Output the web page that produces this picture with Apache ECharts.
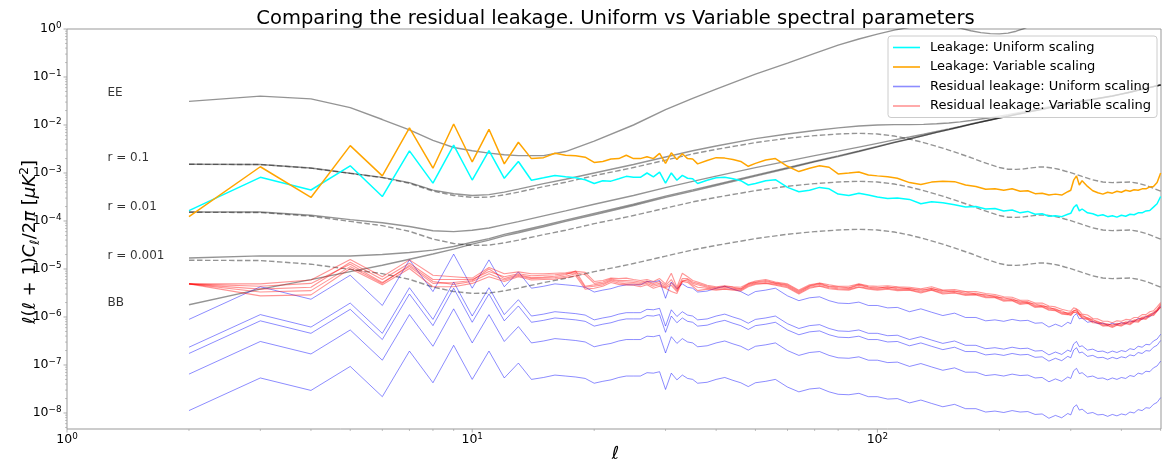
<!DOCTYPE html>
<html>
<head>
<meta charset="utf-8">
<title>Residual leakage</title>
<script src="https://cdn.jsdelivr.net/npm/echarts@6/dist/echarts.min.js"></script>
<style>
  html, body { margin: 0; padding: 0; background: #fff; }
  #chart { width: 1164px; height: 462px; }
</style>
</head>
<body>
<div id="chart"></div>
<script>
var FONT = 'DejaVu Sans';
var X_MIN = 1, X_MAX = 501;
var Y_MIN = 4.64e-9, Y_MAX = 1;

// ---- theory spectra (values in muK^2) ----
var theoryEll = [2,3,4,5,6,7,8,9,10,11,12,13,15,17,20,25,30,35,40,50,60,70,80,90,100,110,120,130,140,150,160,170,180,190,200,210,220,230,240,250,260,270,280,290,300,320,340,360,380,400,420,440,460,480,500];
var tensorR01 = [1.52e-3,1.50e-3,1.26e-3,9.8e-4,8.0e-4,6.1e-4,4.2e-4,3.4e-4,3.1e-4,3.15e-4,3.5e-4,4.0e-4,5.2e-4,6.4e-4,8.8e-4,1.3e-3,1.85e-3,2.5e-3,3.1e-3,4.3e-3,5.3e-3,6.0e-3,6.5e-3,6.7e-3,6.5e-3,5.9e-3,5.1e-3,4.3e-3,3.6e-3,3.0e-3,2.5e-3,2.1e-3,1.75e-3,1.5e-3,1.3e-3,1.2e-3,1.19e-3,1.22e-3,1.28e-3,1.33e-3,1.33e-3,1.27e-3,1.2e-3,1.1e-3,1.02e-3,8.5e-4,7.2e-4,6.5e-4,6.3e-4,6.4e-4,6.5e-4,6.1e-4,5.5e-4,4.8e-4,4.2e-4];
var tensorR001 = [1.52e-4,1.50e-4,1.26e-4,9.8e-5,8.0e-5,6.1e-5,4.2e-5,3.4e-5,3.1e-5,3.15e-5,3.5e-5,4.0e-5,5.2e-5,6.4e-5,8.8e-5,1.3e-4,1.85e-4,2.5e-4,3.1e-4,4.3e-4,5.3e-4,6.0e-4,6.5e-4,6.7e-4,6.5e-4,5.9e-4,5.1e-4,4.3e-4,3.6e-4,3.0e-4,2.5e-4,2.1e-4,1.75e-4,1.5e-4,1.3e-4,1.2e-4,1.19e-4,1.22e-4,1.28e-4,1.33e-4,1.33e-4,1.27e-4,1.2e-4,1.1e-4,1.02e-4,8.5e-5,7.2e-5,6.5e-5,6.3e-5,6.4e-5,6.5e-5,6.1e-5,5.5e-5,4.8e-5,4.2e-5];
var tensorR0001 = [1.52e-5,1.50e-5,1.26e-5,9.8e-6,8.0e-6,6.1e-6,4.2e-6,3.4e-6,3.1e-6,3.15e-6,3.5e-6,4.0e-6,5.2e-6,6.4e-6,8.8e-6,1.3e-5,1.85e-5,2.5e-5,3.1e-5,4.3e-5,5.3e-5,6.0e-5,6.5e-5,6.7e-5,6.5e-5,5.9e-5,5.1e-5,4.3e-5,3.6e-5,3.0e-5,2.5e-5,2.1e-5,1.75e-5,1.5e-5,1.3e-5,1.2e-5,1.19e-5,1.22e-5,1.28e-5,1.33e-5,1.33e-5,1.27e-5,1.2e-5,1.1e-5,1.02e-5,8.5e-6,7.2e-6,6.5e-6,6.3e-6,6.4e-6,6.5e-6,6.1e-6,5.5e-6,4.8e-6,4.2e-6];
var lensingBB = [1.8e-6,3.8e-6,6.0e-6,8.8e-6,1.2e-5,1.6e-5,2.05e-5,2.6e-5,3.3e-5,4.0e-5,4.9e-5,5.7e-5,7.6e-5,9.8e-5,1.35e-4,2.1e-4,3.1e-4,4.2e-4,5.5e-4,8.6e-4,1.24e-3,1.7e-3,2.2e-3,2.8e-3,3.5e-3,4.3e-3,5.1e-3,6.0e-3,7.0e-3,8.0e-3,9.1e-3,1.03e-2,1.15e-2,1.27e-2,1.4e-2,1.52e-2,1.65e-2,1.78e-2,1.92e-2,2.05e-2,2.2e-2,2.35e-2,2.5e-2,2.65e-2,2.8e-2,3.1e-2,3.4e-2,3.7e-2,4.0e-2,4.4e-2,4.8e-2,5.3e-2,5.8e-2,6.3e-2,6.8e-2];
var totalR01 = [1.52e-3,1.50e-3,1.27e-3,9.9e-4,8.1e-4,6.3e-4,4.4e-4,3.7e-4,3.4e-4,3.55e-4,4.0e-4,4.6e-4,6.0e-4,7.4e-4,1.0e-3,1.5e-3,2.15e-3,2.9e-3,3.65e-3,5.2e-3,6.5e-3,7.7e-3,8.7e-3,9.5e-3,1.0e-2,1.02e-2,1.02e-2,1.03e-2,1.06e-2,1.1e-2,1.16e-2,1.24e-2,1.33e-2,1.42e-2,1.53e-2,1.64e-2,1.77e-2,1.9e-2,2.05e-2,2.18e-2,2.33e-2,2.48e-2,2.62e-2,2.76e-2,2.9e-2,3.19e-2,3.47e-2,3.77e-2,4.06e-2,4.46e-2,4.87e-2,5.36e-2,5.86e-2,6.35e-2,6.84e-2];
var totalR001 = [1.54e-4,1.54e-4,1.32e-4,1.07e-4,9.2e-5,7.7e-5,6.25e-5,6.0e-5,6.4e-5,7.15e-5,8.4e-5,9.7e-5,1.28e-4,1.62e-4,2.23e-4,3.4e-4,4.95e-4,6.7e-4,8.6e-4,1.29e-3,1.77e-3,2.3e-3,2.85e-3,3.47e-3,4.15e-3,4.89e-3,5.61e-3,6.43e-3,7.36e-3,8.3e-3,9.35e-3,1.05e-2,1.17e-2,1.285e-2,1.41e-2,1.53e-2,1.66e-2,1.79e-2,1.93e-2,2.06e-2,2.21e-2,2.36e-2,2.51e-2,2.66e-2,2.81e-2,3.11e-2,3.41e-2,3.71e-2,4.01e-2,4.41e-2,4.81e-2,5.31e-2,5.81e-2,6.3e-2,6.8e-2];
var totalR0001 = [1.7e-5,1.88e-5,1.86e-5,1.86e-5,2.0e-5,2.21e-5,2.47e-5,2.94e-5,3.61e-5,4.3e-5,5.25e-5,6.1e-5,8.1e-5,1.04e-4,1.44e-4,2.23e-4,3.29e-4,4.45e-4,5.81e-4,9.03e-4,1.29e-3,1.76e-3,2.27e-3,2.87e-3,3.57e-3,4.36e-3,5.15e-3,6.04e-3,7.04e-3,8.03e-3,9.13e-3,1.03e-2,1.15e-2,1.27e-2,1.4e-2,1.52e-2,1.65e-2,1.78e-2,1.92e-2,2.05e-2,2.2e-2,2.35e-2,2.5e-2,2.65e-2,2.8e-2,3.1e-2,3.4e-2,3.7e-2,4.0e-2,4.4e-2,4.8e-2,5.3e-2,5.8e-2,6.3e-2,6.8e-2];
var eeEll = [2,3,4,5,6,7,8,9,10,11,12,13,15,17,20,25,30,35,40,50,60,70,80,90,100,110,120,130,140,150,160,170,180,190,200,210,220,230,240,260,300,350,400,450,500];
var eeSpectrum = [3.1e-2,4.0e-2,3.5e-2,2.3e-2,1.3e-2,7.9e-3,4.8e-3,3.4e-3,2.9e-3,2.6e-3,2.4e-3,2.3e-3,2.3e-3,2.8e-3,4.6e-3,1.0e-2,2.1e-2,3.6e-2,5.6e-2,1.15e-1,1.95e-1,3.1e-1,4.6e-1,6.2e-1,7.8e-1,9.5e-1,1.08,1.2,1.26,1.2,1.04,0.92,0.84,0.8,0.79,0.82,0.9,1.02,1.2,1.6,2.5,3.5,4.5,5,5.5];

// ---- measured spectra: multipoles and log10 of the values ----
var ell = [2,3,4,5,6,7,8,9,10,11,
  12,13,14,15,16,17,18,19,20,21,
  22,23,24,25,26,27,28,29,30,31,
  32,33,34,35,36,38,40,42,44,46,
  48,50,53,56,60,64,68,72,76,80,
  85,90,95,100,106,112,120,128,136,145,
  155,165,175,185,195,205,215,225,235,245,
  255,265,275,285,295,300,305,310,315,320,
  330,340,350,360,370,380,390,400,410,420,
  430,440,450,460,470,480,490,500];

var leakUniformLog = [-3.785,-3.09,-3.354,-2.85,-3.49,-2.54,-3.21,-2.42,-3.146,-2.535,
  -3.11,-2.76,-3.15,-3.10,-3.05,-3.08,-3.10,-3.14,-3.22,-3.16,
  -3.17,-3.12,-3.07,-3.09,-3.09,-3.00,-3.08,-2.98,-3.21,-3.00,
  -3.15,-3.05,-3.11,-3.12,-3.22,-3.15,-3.10,-3.09,-3.12,-3.16,
  -3.25,-3.22,-3.16,-3.14,-3.30,-3.39,-3.36,-3.30,-3.33,-3.44,
  -3.47,-3.42,-3.46,-3.50,-3.53,-3.52,-3.55,-3.64,-3.60,-3.62,
  -3.66,-3.71,-3.70,-3.75,-3.74,-3.79,-3.77,-3.83,-3.80,-3.86,
  -3.85,-3.90,-3.89,-3.91,-3.86,-3.84,-3.72,-3.66,-3.79,-3.75,
  -3.83,-3.85,-3.89,-3.87,-3.91,-3.89,-3.92,-3.88,-3.90,-3.86,
  -3.87,-3.83,-3.83,-3.79,-3.78,-3.71,-3.64,-3.49];

var leakVariableLog = [-3.91,-2.87,-3.51,-2.43,-3.06,-2.06,-2.90,-1.98,-2.77,-2.09,
  -2.81,-2.36,-2.70,-2.68,-2.59,-2.63,-2.64,-2.67,-2.78,-2.76,
  -2.71,-2.70,-2.63,-2.70,-2.70,-2.66,-2.70,-2.59,-2.80,-2.58,
  -2.72,-2.60,-2.70,-2.71,-2.81,-2.74,-2.68,-2.69,-2.72,-2.76,
  -2.86,-2.80,-2.73,-2.70,-2.86,-2.97,-2.90,-2.85,-2.88,-3.02,
  -3.00,-2.98,-3.04,-3.06,-3.08,-3.11,-3.20,-3.24,-3.19,-3.17,
  -3.18,-3.25,-3.28,-3.34,-3.33,-3.36,-3.33,-3.38,-3.37,-3.43,
  -3.42,-3.46,-3.44,-3.46,-3.39,-3.36,-3.15,-3.06,-3.25,-3.16,
  -3.28,-3.37,-3.41,-3.44,-3.40,-3.42,-3.38,-3.40,-3.36,-3.38,
  -3.35,-3.36,-3.33,-3.33,-3.29,-3.28,-3.20,-3.00];

var resUniform1Log = [-6.05,-5.37,-5.63,-5.13,-5.76,-4.81,-5.47,-4.69,-5.40,-4.81,
  -5.37,-5.06,-5.40,-5.36,-5.31,-5.33,-5.35,-5.38,-5.48,-5.44,
  -5.41,-5.36,-5.33,-5.33,-5.33,-5.26,-5.27,-5.24,-5.61,-5.27,
  -5.41,-5.31,-5.38,-5.40,-5.48,-5.46,-5.40,-5.36,-5.42,-5.47,
  -5.55,-5.47,-5.44,-5.40,-5.56,-5.66,-5.60,-5.58,-5.66,-5.71,
  -5.72,-5.69,-5.76,-5.76,-5.81,-5.80,-5.89,-5.83,-5.90,-5.97,
  -5.92,-6.01,-6.01,-6.08,-6.06,-6.09,-6.05,-6.08,-6.07,-6.13,
  -6.12,-6.21,-6.15,-6.20,-6.11,-6.14,-5.98,-5.93,-6.04,-6.02,
  -6.11,-6.09,-6.14,-6.13,-6.17,-6.13,-6.16,-6.12,-6.14,-6.08,
  -6.10,-6.03,-6.05,-5.99,-6.00,-5.92,-5.88,-5.78];

var resUniform2Log = [-6.63,-5.95,-6.21,-5.71,-6.34,-5.39,-6.05,-5.27,-5.98,-5.39,
  -5.95,-5.64,-5.98,-5.94,-5.89,-5.91,-5.93,-5.96,-6.06,-6.02,
  -5.99,-5.94,-5.91,-5.91,-5.91,-5.84,-5.85,-5.82,-6.19,-5.85,
  -5.99,-5.89,-5.96,-5.98,-6.06,-6.04,-5.98,-5.94,-6.00,-6.05,
  -6.13,-6.05,-6.02,-5.98,-6.14,-6.24,-6.18,-6.16,-6.24,-6.29,
  -6.30,-6.27,-6.34,-6.34,-6.39,-6.38,-6.47,-6.41,-6.48,-6.55,
  -6.50,-6.59,-6.59,-6.66,-6.64,-6.67,-6.63,-6.66,-6.65,-6.71,
  -6.70,-6.79,-6.73,-6.78,-6.69,-6.72,-6.56,-6.51,-6.62,-6.60,
  -6.69,-6.67,-6.72,-6.71,-6.75,-6.71,-6.74,-6.70,-6.72,-6.66,
  -6.68,-6.61,-6.63,-6.57,-6.58,-6.50,-6.46,-6.36];

var resUniform3Log = [-6.76,-6.08,-6.34,-5.84,-6.47,-5.52,-6.18,-5.40,-6.11,-5.52,
  -6.08,-5.77,-6.11,-6.07,-6.02,-6.04,-6.06,-6.09,-6.19,-6.15,
  -6.12,-6.07,-6.04,-6.04,-6.04,-5.97,-5.98,-5.95,-6.32,-5.98,
  -6.12,-6.02,-6.09,-6.11,-6.19,-6.17,-6.11,-6.07,-6.13,-6.18,
  -6.26,-6.18,-6.15,-6.11,-6.27,-6.37,-6.31,-6.29,-6.37,-6.42,
  -6.43,-6.40,-6.47,-6.47,-6.52,-6.51,-6.60,-6.54,-6.61,-6.68,
  -6.63,-6.72,-6.72,-6.79,-6.77,-6.80,-6.76,-6.79,-6.78,-6.84,
  -6.83,-6.92,-6.86,-6.91,-6.82,-6.85,-6.69,-6.64,-6.75,-6.73,
  -6.82,-6.80,-6.85,-6.84,-6.88,-6.84,-6.87,-6.83,-6.85,-6.79,
  -6.81,-6.74,-6.76,-6.70,-6.71,-6.63,-6.59,-6.49];

var resUniform4Log = [-7.19,-6.51,-6.77,-6.27,-6.90,-5.95,-6.61,-5.83,-6.54,-5.95,
  -6.51,-6.20,-6.54,-6.50,-6.45,-6.47,-6.49,-6.52,-6.62,-6.58,
  -6.55,-6.50,-6.47,-6.47,-6.47,-6.40,-6.41,-6.38,-6.75,-6.41,
  -6.55,-6.45,-6.52,-6.54,-6.62,-6.60,-6.54,-6.50,-6.56,-6.61,
  -6.69,-6.61,-6.58,-6.54,-6.70,-6.80,-6.74,-6.72,-6.80,-6.85,
  -6.86,-6.83,-6.90,-6.90,-6.95,-6.94,-7.03,-6.97,-7.04,-7.11,
  -7.06,-7.15,-7.15,-7.22,-7.20,-7.23,-7.19,-7.22,-7.21,-7.27,
  -7.26,-7.35,-7.29,-7.34,-7.25,-7.28,-7.12,-7.07,-7.18,-7.16,
  -7.25,-7.23,-7.28,-7.27,-7.31,-7.27,-7.30,-7.26,-7.28,-7.22,
  -7.24,-7.17,-7.19,-7.13,-7.14,-7.06,-7.02,-6.92];

var resUniform5Log = [-7.95,-7.27,-7.53,-7.03,-7.66,-6.71,-7.37,-6.59,-7.30,-6.71,
  -7.27,-6.96,-7.30,-7.26,-7.21,-7.23,-7.25,-7.28,-7.38,-7.34,
  -7.31,-7.26,-7.23,-7.23,-7.23,-7.16,-7.17,-7.14,-7.51,-7.17,
  -7.31,-7.21,-7.28,-7.30,-7.38,-7.36,-7.30,-7.26,-7.32,-7.37,
  -7.45,-7.37,-7.34,-7.30,-7.46,-7.56,-7.50,-7.48,-7.56,-7.61,
  -7.62,-7.59,-7.66,-7.66,-7.71,-7.70,-7.79,-7.73,-7.80,-7.87,
  -7.82,-7.91,-7.91,-7.98,-7.96,-7.99,-7.95,-7.98,-7.97,-8.03,
  -8.02,-8.11,-8.05,-8.10,-8.01,-8.04,-7.88,-7.83,-7.94,-7.92,
  -8.01,-7.99,-8.04,-8.03,-8.07,-8.03,-8.06,-8.02,-8.04,-7.98,
  -8.00,-7.93,-7.95,-7.89,-7.90,-7.82,-7.78,-7.68];

var resVariable1Log = [-5.31,-5.36,-5.30,-4.90,-5.28,-4.95,-5.30,-5.28,-5.24,-5.00,
  -5.20,-5.12,-5.18,-5.17,-5.15,-5.12,-5.04,-5.36,-5.33,-5.30,
  -5.23,-5.26,-5.27,-5.28,-5.30,-5.27,-5.33,-5.30,-5.37,-5.29,
  -5.44,-5.26,-5.22,-5.30,-5.33,-5.38,-5.40,-5.38,-5.40,-5.42,
  -5.33,-5.28,-5.26,-5.30,-5.35,-5.48,-5.36,-5.32,-5.37,-5.39,
  -5.40,-5.34,-5.38,-5.40,-5.37,-5.41,-5.40,-5.46,-5.40,-5.48,
  -5.46,-5.51,-5.50,-5.56,-5.56,-5.63,-5.62,-5.70,-5.68,-5.76,
  -5.75,-5.82,-5.83,-5.90,-5.91,-5.93,-5.86,-5.87,-5.92,-5.99,
  -6.01,-6.08,-6.09,-6.15,-6.14,-6.18,-6.13,-6.15,-6.10,-6.12,
  -6.06,-6.07,-6.00,-6.01,-5.94,-5.93,-5.84,-5.76];

var resVariable2Log = [-5.31,-5.31,-5.23,-4.80,-5.16,-4.81,-5.13,-5.16,-5.19,-4.97,
  -5.10,-5.06,-5.10,-5.10,-5.09,-5.08,-5.05,-5.07,-5.26,-5.24,
  -5.19,-5.20,-5.19,-5.22,-5.24,-5.22,-5.26,-5.20,-5.31,-5.09,
  -5.38,-5.09,-5.16,-5.24,-5.27,-5.34,-5.37,-5.35,-5.37,-5.38,
  -5.30,-5.25,-5.22,-5.27,-5.31,-5.44,-5.33,-5.29,-5.33,-5.36,
  -5.36,-5.31,-5.35,-5.36,-5.35,-5.37,-5.38,-5.41,-5.37,-5.44,
  -5.43,-5.47,-5.47,-5.51,-5.53,-5.58,-5.59,-5.65,-5.65,-5.71,
  -5.71,-5.77,-5.79,-5.84,-5.87,-5.88,-5.81,-5.83,-5.87,-5.94,
  -5.96,-6.03,-6.04,-6.09,-6.09,-6.12,-6.08,-6.09,-6.05,-6.06,
  -6.01,-6.01,-5.95,-5.95,-5.89,-5.87,-5.79,-5.70];

var resVariable3Log = [-5.31,-5.42,-5.38,-4.86,-5.22,-4.88,-5.22,-5.22,-5.22,-5.05,
  -5.16,-5.10,-5.14,-5.13,-5.12,-5.10,-5.08,-5.12,-5.30,-5.27,
  -5.21,-5.24,-5.24,-5.25,-5.27,-5.25,-5.30,-5.26,-5.34,-5.22,
  -5.41,-5.20,-5.20,-5.27,-5.30,-5.36,-5.39,-5.36,-5.38,-5.41,
  -5.31,-5.27,-5.24,-5.29,-5.33,-5.46,-5.35,-5.30,-5.36,-5.37,
  -5.39,-5.32,-5.37,-5.38,-5.39,-5.38,-5.41,-5.43,-5.41,-5.45,
  -5.47,-5.48,-5.52,-5.53,-5.58,-5.60,-5.64,-5.67,-5.70,-5.73,
  -5.77,-5.79,-5.85,-5.87,-5.93,-5.90,-5.88,-5.84,-5.94,-5.96,
  -6.03,-6.05,-6.11,-6.12,-6.16,-6.15,-6.15,-6.12,-6.12,-6.09,
  -6.08,-6.04,-6.02,-5.98,-5.96,-5.90,-5.86,-5.73];

var resVariable4Log = [-5.31,-5.48,-5.45,-4.95,-5.30,-4.92,-5.26,-5.32,-5.26,-5.10,
  -5.23,-5.14,-5.20,-5.19,-5.18,-5.15,-5.10,-5.38,-5.36,-5.33,
  -5.25,-5.29,-5.31,-5.31,-5.33,-5.30,-5.36,-5.33,-5.39,-5.34,
  -5.47,-5.24,-5.25,-5.33,-5.38,-5.40,-5.42,-5.41,-5.42,-5.44,
  -5.35,-5.30,-5.29,-5.32,-5.37,-5.50,-5.38,-5.35,-5.39,-5.41,
  -5.42,-5.37,-5.40,-5.42,-5.40,-5.43,-5.43,-5.48,-5.43,-5.50,
  -5.49,-5.53,-5.53,-5.58,-5.59,-5.65,-5.65,-5.72,-5.71,-5.78,
  -5.78,-5.84,-5.86,-5.92,-5.94,-5.95,-5.90,-5.89,-5.95,-6.01,
  -6.04,-6.10,-6.12,-6.17,-6.17,-6.20,-6.16,-6.17,-6.13,-6.14,
  -6.09,-6.09,-6.03,-6.03,-5.97,-5.95,-5.87,-5.79];

var resVariable5Log = [-5.31,-5.56,-5.54,-4.99,-5.33,-4.99,-5.37,-5.37,-5.30,-5.16,
  -5.26,-5.16,-5.23,-5.22,-5.21,-5.18,-5.14,-5.42,-5.40,-5.36,
  -5.28,-5.32,-5.33,-5.34,-5.37,-5.33,-5.40,-5.36,-5.40,-5.47,
  -5.51,-5.26,-5.28,-5.36,-5.45,-5.42,-5.44,-5.42,-5.44,-5.46,
  -5.37,-5.32,-5.30,-5.34,-5.39,-5.52,-5.40,-5.36,-5.41,-5.43,
  -5.44,-5.38,-5.42,-5.44,-5.42,-5.45,-5.44,-5.50,-5.44,-5.52,
  -5.50,-5.55,-5.54,-5.60,-5.60,-5.67,-5.66,-5.74,-5.72,-5.80,
  -5.79,-5.86,-5.87,-5.94,-5.95,-5.97,-5.90,-5.91,-5.96,-6.03,
  -6.05,-6.12,-6.13,-6.19,-6.18,-6.22,-6.17,-6.19,-6.14,-6.16,
  -6.10,-6.11,-6.04,-6.05,-5.98,-5.97,-5.88,-5.80];

// text annotations placed at data coordinates [ell, value, text]
var annotations = [
  [1.255, 4.6e-2, 'EE'],
  [1.255, 2.05e-3, 'r = 0.1'],
  [1.255, 1.96e-4, 'r = 0.01'],
  [1.255, 1.87e-5, 'r = 0.001'],
  [1.255, 1.96e-6, 'BB']
];

var xMajorTicks = [1, 10, 100];
var yMajorTicks = [1e-8, 1e-7, 1e-6, 1e-5, 1e-4, 1e-3, 1e-2, 1e-1, 1];

var LEG_UNI = 'Leakage: Uniform scaling';
var LEG_VAR = 'Leakage: Variable scaling';
var LEG_RES_UNI = 'Residual leakage: Uniform scaling';
var LEG_RES_VAR = 'Residual leakage: Variable scaling';

var GRAY = 'rgba(0,0,0,0.42)';
var BLUE = 'rgba(0,0,255,0.45)';
var RED = 'rgba(255,0,0,0.42)';
var SPINE = '#999999';

function pairs(xs, ys) {
  return xs.map(function (x, i) { return [x, ys[i]]; });
}
function pairsLog(xs, logs) {
  return xs.map(function (x, i) { return [x, Math.pow(10, logs[i])]; });
}

function powLabel(v) {
  var e = Math.log10(v);
  var r = Math.round(e);
  if (Math.abs(e - r) > 1e-6) return '';
  return '{b|10}{s|' + (r < 0 ? '\u2212' + (-r) : r) + '}';
}
var tickRich = {
  b: { fontFamily: FONT, fontSize: 12.5, lineHeight: 16, color: '#000' },
  s: { fontFamily: FONT, fontSize: 8.8, lineHeight: 8, verticalAlign: 'top', color: '#000' }
};

function theoryLine(data, dashed) {
  return {
    type: 'line', data: data, symbol: 'none', showSymbol: false, silent: true,
    lineStyle: { color: GRAY, width: 1.4, type: dashed ? [5.5, 2.5] : 'solid' },
    z: 2
  };
}
function specLine(name, data, color, width) {
  return {
    type: 'line', name: name, data: data, symbol: 'none', showSymbol: false, silent: true,
    itemStyle: { color: color },
    lineStyle: { color: color, width: width },
    z: 3
  };
}

// tick marks drawn by hand so that log minor ticks sit at 2..9 x 10^k
var tickData = [];
xMajorTicks.forEach(function (v) { tickData.push([v, Y_MIN, 0]); });
yMajorTicks.forEach(function (v) { tickData.push([X_MIN, v, 1]); });
[1, 10, 100].forEach(function (d) {
  for (var m = 2; m <= 9; m++) if (m * d <= X_MAX) tickData.push([m * d, Y_MIN, 2]);
});
for (var k = -9; k < 0; k++) {
  for (var m = 2; m <= 9; m++) {
    var v = m * Math.pow(10, k);
    if (v >= Y_MIN && v <= Y_MAX) tickData.push([X_MIN, v, 3]);
  }
}

var series = [
  theoryLine(pairs(eeEll, eeSpectrum), false),
  theoryLine(pairs(theoryEll, lensingBB), false),
  theoryLine(pairs(theoryEll, totalR01), false),
  theoryLine(pairs(theoryEll, totalR001), false),
  theoryLine(pairs(theoryEll, totalR0001), false),
  theoryLine(pairs(theoryEll, tensorR01), true),
  theoryLine(pairs(theoryEll, tensorR001), true),
  theoryLine(pairs(theoryEll, tensorR0001), true),
  specLine(LEG_UNI, pairsLog(ell, leakUniformLog), '#00ffff', 1.5),
  specLine(LEG_VAR, pairsLog(ell, leakVariableLog), '#ffa500', 1.5)
];
[resUniform1Log, resUniform2Log, resUniform3Log, resUniform4Log, resUniform5Log].forEach(function (arr) {
  series.push(specLine(LEG_RES_UNI, pairsLog(ell, arr), BLUE, 1));
});
[resVariable1Log, resVariable2Log, resVariable3Log, resVariable4Log, resVariable5Log].forEach(function (arr) {
  series.push(specLine(LEG_RES_VAR, pairsLog(ell, arr), RED, 1.1));
});
series.push({
  type: 'scatter', data: annotations, symbolSize: 1, silent: true,
  itemStyle: { color: 'rgba(0,0,0,0)' },
  label: {
    show: true, position: 'right', distance: 0,
    formatter: function (p) { return p.data[2]; },
    fontFamily: FONT, fontSize: 12, color: '#000'
  },
  z: 4
});
series.push({
  type: 'custom', data: tickData, silent: true, clip: false, z: 5,
  renderItem: function (params, api) {
    var kind = api.value(2);
    var p = api.coord([api.value(0), api.value(1)]);
    var len = kind < 2 ? 3.5 : 2;
    var w = kind < 2 ? 0.8 : 0.6;
    var shape = (kind % 2 === 0)
      ? { x1: p[0], y1: p[1], x2: p[0], y2: p[1] + len }
      : { x1: p[0] - len, y1: p[1], x2: p[0], y2: p[1] };
    return { type: 'line', shape: shape, style: { stroke: SPINE, lineWidth: w } };
  }
});

var chart = echarts.init(document.getElementById('chart'), null, { renderer: 'canvas' });
chart.setOption({
  animation: false,
  backgroundColor: '#ffffff',
  grid: { left: 67, top: 29, width: 1096, height: 400, show: true, borderColor: SPINE, borderWidth: 1, containLabel: false },
  xAxis: {
    type: 'log', logBase: 10, min: X_MIN, max: X_MAX,
    axisLine: { show: false }, axisTick: { show: false }, splitLine: { show: false },
    axisLabel: { formatter: powLabel, margin: 3, rich: tickRich }
  },
  yAxis: {
    type: 'log', logBase: 10, min: Y_MIN, max: Y_MAX,
    axisLine: { show: false }, axisTick: { show: false }, splitLine: { show: false },
    axisLabel: { formatter: powLabel, margin: 5.5, rich: tickRich }
  },
  legend: {
    data: [LEG_UNI, LEG_VAR, LEG_RES_UNI, LEG_RES_VAR],
    orient: 'vertical', left: 888, top: 36,
    icon: 'rect', itemWidth: 27, itemHeight: 1.6, itemGap: 6.5,
    padding: [5, 6, 5, 5],
    backgroundColor: 'rgba(255,255,255,0.8)',
    borderColor: '#cccccc', borderWidth: 1, borderRadius: 3,
    selectedMode: false,
    textStyle: { fontFamily: FONT, fontSize: 13, color: '#000', padding: [0, 0, 0, 5] }
  },
  graphic: [
    {
      type: 'text', x: 615.5, y: 18.5, silent: true,
      style: {
        text: 'Comparing the residual leakage. Uniform vs Variable spectral parameters',
        fontFamily: FONT, fontSize: 19.5, fill: '#000', align: 'center', verticalAlign: 'middle'
      }
    },
    {
      type: 'text', x: 30, y: 242, rotation: Math.PI / 2, silent: true,
      style: {
        text: '{i|\u2113}{n|(}{i|\u2113}{n| + 1)}{i|C}{sub|\u2113}{n|/2}{i|\u03c0}{n| [}{i|\u03bcK}{sup|2}{n|]}',
        align: 'center', verticalAlign: 'middle', fill: '#000',
        rich: {
          n: { fontFamily: FONT, fontSize: 18, lineHeight: 24, fill: '#000' },
          i: { fontFamily: FONT, fontSize: 18, fontStyle: 'italic', lineHeight: 24, fill: '#000' },
          sub: { fontFamily: FONT, fontSize: 12.6, fontStyle: 'italic', lineHeight: 10, verticalAlign: 'bottom', fill: '#000' },
          sup: { fontFamily: FONT, fontSize: 12.6, lineHeight: 10, verticalAlign: 'top', fill: '#000' }
        }
      }
    },
    {
      type: 'text', x: 615.5, y: 454, silent: true,
      style: {
        text: '\u2113', fontFamily: FONT, fontSize: 18, fontStyle: 'italic', fill: '#000',
        align: 'center', verticalAlign: 'middle'
      }
    }
  ],
  series: series
});
</script>
</body>
</html>
